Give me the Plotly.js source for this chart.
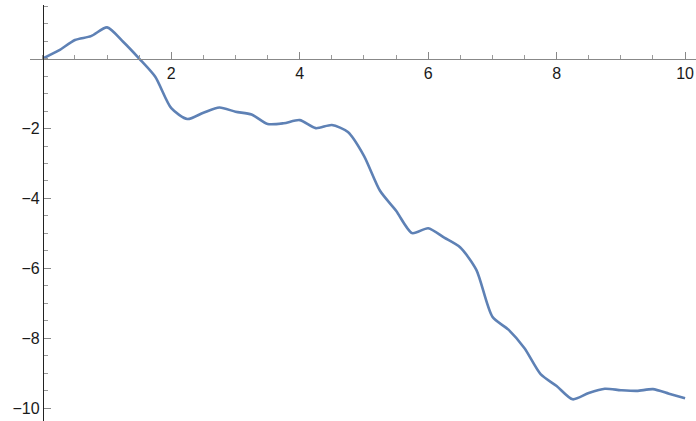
<!DOCTYPE html>
<html>
<head>
<meta charset="utf-8">
<script src="https://cdn.plot.ly/plotly-3.0.1.min.js"></script>
<style>html,body{margin:0;padding:0;background:#fff;}#chart{width:696px;height:421px;}</style>
</head>
<body>
<div id="chart"></div>
<script>
const xValues = [0, 0.25, 0.5, 0.75, 1, 1.25, 1.5, 1.75, 2, 2.25, 2.5, 2.75, 3, 3.25, 3.5, 3.75, 4, 4.25, 4.5, 4.75, 5,
  5.25, 5.5, 5.75, 6, 6.25, 6.5, 6.75, 7, 7.25, 7.5, 7.75, 8, 8.25, 8.5, 8.75, 9, 9.25, 9.5, 9.75, 10];
const yValues = [0, 0.23, 0.53, 0.64, 0.89, 0.48, 0.0, -0.52, -1.42, -1.73, -1.55, -1.40, -1.52, -1.60, -1.87, -1.85, -1.76, -1.99, -1.90, -2.10, -2.78,
  -3.78, -4.35, -4.99, -4.85, -5.12, -5.40, -6.04, -7.38, -7.75, -8.28, -9.02, -9.36, -9.74, -9.56, -9.44, -9.48, -9.50, -9.45, -9.58, -9.71];
const xTickVals = [2, 4, 6, 8, 10];
const yTickVals = [-10, -8, -6, -4, -2];

const xRange = [-0.2, 10.17];
const yRange = [-10.36, 1.53];

const trace = {
  x: xValues, y: yValues, type: 'scatter', mode: 'lines',
  line: {color: '#5E81B5', width: 2.6, shape: 'spline', smoothing: 0.7},
  hoverinfo: 'none', cliponaxis: false
};

const font = {family: 'Liberation Sans', size: 16, color: '#1a1a1a'};

const layout = {
  width: 696, height: 421,
  margin: {l: 30, r: 0, t: 5, b: 0},
  paper_bgcolor: '#fff', plot_bgcolor: '#fff',
  showlegend: false,
  xaxis: {
    range: xRange, showgrid: false, zeroline: false,
    anchor: 'free', position: (0 - yRange[0]) / (yRange[1] - yRange[0]),
    showline: true, linecolor: '#888', linewidth: 1,
    tickmode: 'array', tickvals: xTickVals, ticks: 'inside', ticklen: 7, tickcolor: '#888', tickwidth: 1,
    minor: {tickmode: 'linear', tick0: 0, dtick: 0.5, ticks: 'inside', ticklen: 4, tickcolor: '#999', tickwidth: 1},
    tickfont: font, automargin: false, fixedrange: true
  },
  yaxis: {
    range: yRange, showgrid: false, zeroline: false,
    anchor: 'free', position: (0 - xRange[0]) / (xRange[1] - xRange[0]),
    showline: true, linecolor: '#222', linewidth: 1,
    tickmode: 'array', tickvals: yTickVals, ticks: 'inside', ticklen: 7, tickcolor: '#888', tickwidth: 1,
    minor: {tickmode: 'linear', tick0: 0, dtick: 0.5, ticks: 'inside', ticklen: 4, tickcolor: '#999', tickwidth: 1},
    tickfont: font, automargin: false, fixedrange: true
  }
};

Plotly.newPlot('chart', [trace], layout, {staticPlot: true, displayModeBar: false});
</script>
</body>
</html>
